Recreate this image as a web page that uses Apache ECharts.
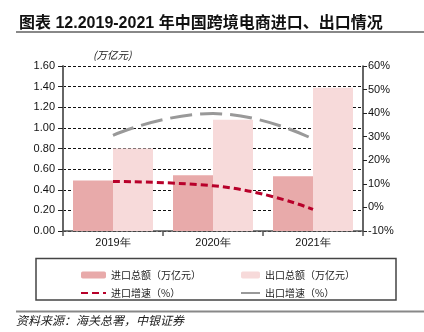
<!DOCTYPE html>
<html><head><meta charset="utf-8">
<script src="https://cdn.jsdelivr.net/npm/echarts@6/dist/echarts.min.js"></script>
<style>html,body{margin:0;padding:0;background:#fff}#c{width:424px;height:332px}</style>
</head><body><div id="c"></div>
<script>
var categories = ['2019年', '2020年', '2021年'];
var importTotal = [0.49, 0.54, 0.53];
var exportTotal = [0.80, 1.08, 1.39];
var importGrowth = [11.0, 9.2, -0.8];
var exportGrowth = [30.6, 39.8, 29.0];
var leftTicks = {min: 0, max: 1.6, interval: 0.2};
var rightTicks = {min: -10, max: 60, interval: 10};
var names = ['进口总额（万亿元）', '出口总额（万亿元）', '进口增速（%）', '出口增速（%）'];

var chart = echarts.init(document.getElementById('c'), null, {renderer: 'canvas'});
var cjk = '"Noto Sans CJK SC", sans-serif';
var num = '"Liberation Sans", Arial, sans-serif';
var legendText = {fontFamily: cjk, fontSize: 10, color: '#222', lineHeight: 12};
chart.setOption({
  animation: false,
  title: {
    text: '图表 12.2019-2021 年中国跨境电商进口、出口情况',
    left: 14, top: 11,
    textStyle: {fontFamily: '"Liberation Sans", "Noto Sans CJK SC", sans-serif', fontSize: 16, fontWeight: 'bold', color: '#111'}
  },
  graphic: [
    {type: 'line', shape: {x1: 16, y1: 32, x2: 424, y2: 32}, style: {stroke: '#888', lineWidth: 2}},
    {type: 'text', left: 93, top: 50, style: {text: '(万亿元)', font: 'italic 10.5px "Noto Sans CJK SC"', fill: '#222'}},
    {type: 'rect', shape: {x: 36, y: 258.5, width: 360, height: 41.5}, style: {fill: 'none', stroke: '#444', lineWidth: 1.5}},
    {type: 'line', shape: {x1: 16, y1: 311.5, x2: 424, y2: 311.5}, style: {stroke: '#888', lineWidth: 2}},
    {type: 'text', left: 16, top: 314, style: {text: '资料来源：海关总署，中银证券', font: 'italic 12px "Noto Sans CJK SC"', fill: '#222'}}
  ],
  legend: [
    {orient: 'vertical', left: 75, top: 264, itemWidth: 25, itemHeight: 7, itemGap: 6,
     data: [names[0], {name: names[2], itemStyle: {opacity: 0}}], textStyle: legendText},
    {orient: 'vertical', left: 235, top: 264, itemWidth: 19, itemHeight: 7, itemGap: 6,
     data: [names[1], {name: names[3], itemStyle: {opacity: 0}}], textStyle: legendText}
  ],
  grid: {left: 63, right: 61, top: 66, height: 165},
  xAxis: {
    type: 'category', data: categories,
    axisLine: {lineStyle: {color: '#555', width: 1.5}},
    axisTick: {show: true, length: 5, lineStyle: {color: '#555', width: 1.5}},
    axisLabel: {fontFamily: num, fontSize: 11, color: '#111', margin: 6}
  },
  yAxis: [
    {type: 'value', min: leftTicks.min, max: leftTicks.max, interval: leftTicks.interval,
     axisLine: {show: true, lineStyle: {color: '#666', width: 2}},
     axisTick: {show: true, length: 5, lineStyle: {color: '#222'}},
     axisLabel: {fontFamily: num, fontSize: 11, color: '#111', margin: 8, formatter: function (v) { return v.toFixed(2); }},
     splitLine: {show: true, lineStyle: {color: '#111', type: [3, 2], width: 1}}},
    {type: 'value', min: rightTicks.min, max: rightTicks.max, interval: rightTicks.interval,
     axisLine: {show: true, lineStyle: {color: '#333', width: 1.5}},
     axisTick: {show: true, length: 4, lineStyle: {color: '#222'}},
     axisLabel: {fontFamily: num, fontSize: 11, color: '#111', margin: 5, formatter: '{value}%'},
     splitLine: {show: false}}
  ],
  series: [
    {name: names[0], type: 'bar', data: importTotal, barWidth: 40, barGap: '0%',
     itemStyle: {color: '#E8AAAA'}},
    {name: names[1], type: 'bar', data: exportTotal, barWidth: 40, barGap: '0%',
     itemStyle: {color: '#F7DADA'}},
    {name: names[2], type: 'line', yAxisIndex: 1, data: importGrowth, smooth: 0.5, symbol: 'none',
     lineStyle: {color: '#B8002A', width: 3, type: [7, 4]}, itemStyle: {color: '#B8002A'}},
    {name: names[3], type: 'line', yAxisIndex: 1, data: exportGrowth, smooth: 0.5, symbol: 'none',
     lineStyle: {color: '#999', width: 3, type: [22, 8]}, itemStyle: {color: '#999'}}
  ]
});
</script></body></html>
